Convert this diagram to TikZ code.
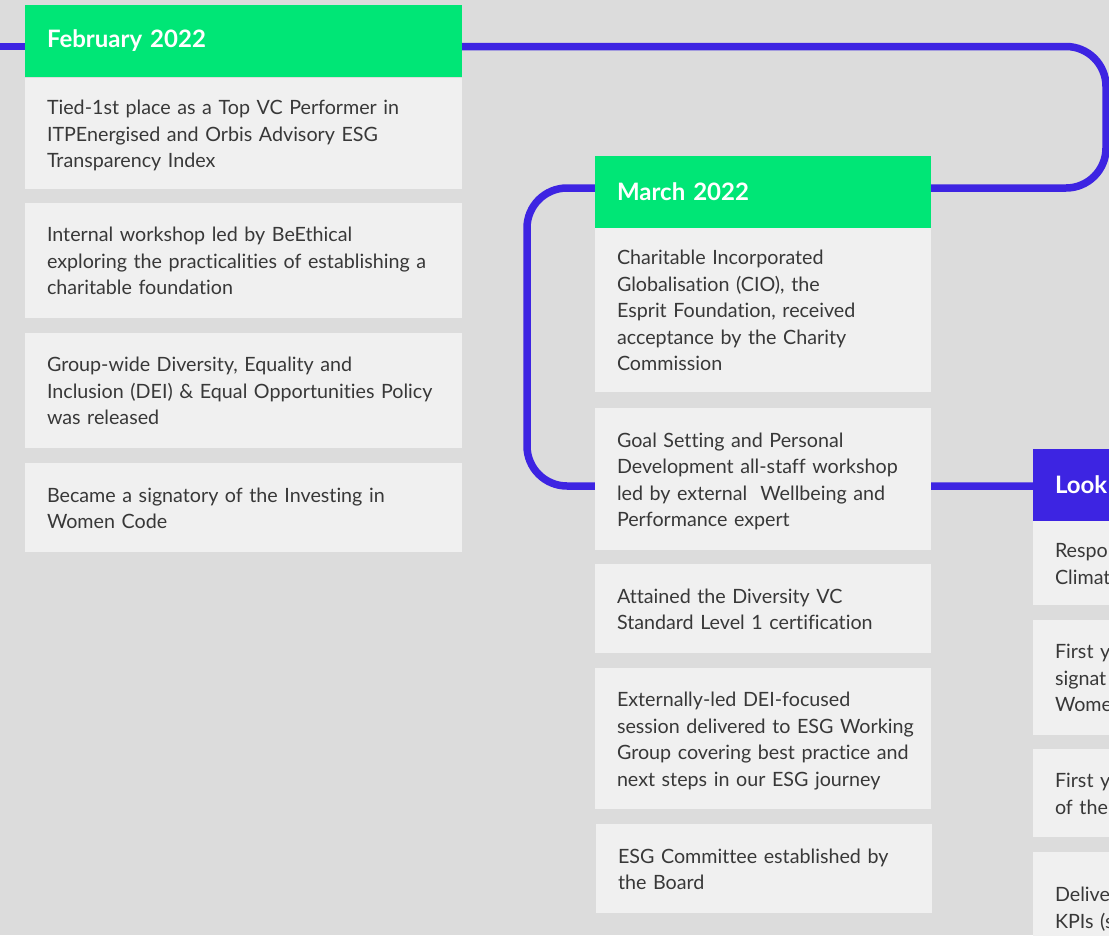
\documentclass[tikz,border=0pt]{standalone}
\usepackage{fontspec}
\setmainfont{Lato}[Ligatures=CommonOff]
\usetikzlibrary{backgrounds}

\definecolor{pagebg}{HTML}{DCDCDC}
\definecolor{cardbg}{HTML}{F0F0F0}
\definecolor{headgreen}{HTML}{00E676}
\definecolor{railblue}{HTML}{3D24E2}
\definecolor{bodytext}{HTML}{383838}

% Card text keeps its own line breaks: a one-column table per card,
% set a little lower than the box centre
\newcommand\cardlines[1]{\raisebox{-2.5pt}[\height][\depth]{\begin{tabular}{@{}l@{}}#1\end{tabular}}}

\tikzset{
  card/.style={anchor=north west, fill=cardbg, text=bodytext, align=left,
    inner xsep=22pt, inner ysep=0pt, outer sep=0pt,
    font=\fontsize{19.7}{26.5}\selectfont},
  head/.style={card, fill=headgreen, text=white,
    font=\fontsize{24}{28}\selectfont\bfseries},
  headblue/.style={head, fill=railblue},
  colA/.style={text width=393pt},
  colB/.style={text width=292pt},
  rail/.style={draw=railblue, line width=7.5pt, rounded corners=40pt}
}

\begin{document}
\begin{tikzpicture}[x=1pt,y=-1pt]
\useasboundingbox (0,0) rectangle (1109,935);

% February 2022 column
\node[head, colA, minimum height=72pt] (feb) at (25,5) {February 2022};
\node[card, colA, minimum height=111pt] (feb1) at (25,78)
  {\cardlines{Tied-1st place as a Top VC Performer in\\ITPEnergised and Orbis Advisory ESG\\Transparency Index}};
\node[card, colA, minimum height=115pt] (feb2) at (25,203)
  {\cardlines{Internal workshop led by BeEthical\\exploring the practicalities of establishing a\\charitable foundation}};
\node[card, colA, minimum height=115pt] (feb3) at (25,333)
  {\cardlines{Group-wide Diversity, Equality and\\Inclusion (DEI) \& Equal Opportunities Policy\\was released}};
\node[card, colA, minimum height=89pt] (feb4) at (25,463)
  {\cardlines{Became a signatory of the Investing in\\Women Code}};

% March 2022 column
\node[head, colB, minimum height=72pt] (mar) at (595,156) {March 2022};
\node[card, colB, minimum height=164pt] (mar1) at (595,228)
  {\cardlines{Charitable Incorporated\\Globalisation (CIO), the\\Esprit Foundation, received\\acceptance by the Charity\\Commission}};
\node[card, colB, minimum height=142pt] (mar2) at (595,408)
  {\cardlines{Goal Setting and Personal\\Development all-staff workshop\\led by external\ \ Wellbeing and\\Performance expert}};
\node[card, colB, minimum height=89pt] (mar3) at (595,564)
  {\cardlines{Attained the Diversity VC\\Standard Level 1 certification}};
\node[card, colB, minimum height=141pt] (mar4) at (595,668)
  {\cardlines{Externally-led DEI-focused\\session delivered to ESG Working\\Group covering best practice and\\next steps in our ESG journey}};
\node[card, colB, minimum height=89pt] (mar5) at (596,824)
  {\cardlines{ESG Committee established by\\the Board}};

% Third column, running off the right edge
\node[headblue, colB, minimum height=72pt] (look) at (1033,449) {Look};
\node[card, colB, minimum height=84pt] (look1) at (1033,521) {\cardlines{Respo\\Climat}};
\node[card, colB, minimum height=115pt] (look2) at (1033,620) {\cardlines{First ye\\signat\\Wome}};
\node[card, colB, minimum height=88pt] (look3) at (1033,749) {\cardlines{First ye\\of the}};
\node[card, colB, minimum height=110pt] (look4) at (1033,852) {\cardlines{Delive\\KPIs (s}};

% Route turning points
\coordinate (railstart) at (0,46.5);
\coordinate (turnR1) at (1106,46.5);
\coordinate (turnR2) at (1106,188);
\coordinate (turnL1) at (527,188);
\coordinate (turnL2) at (527,486);

\begin{pgfonlayer}{background}
  \fill[pagebg] (0,0) rectangle (1109,935);
  \draw[rail] (railstart) -- (railstart -| feb.west);
  \draw[rail] (railstart -| feb.east) -- (turnR1) -- (turnR2)
    -- (turnL1) -- (turnL2) -- (turnL2 -| look.west);
\end{pgfonlayer}
\end{tikzpicture}
\end{document}
